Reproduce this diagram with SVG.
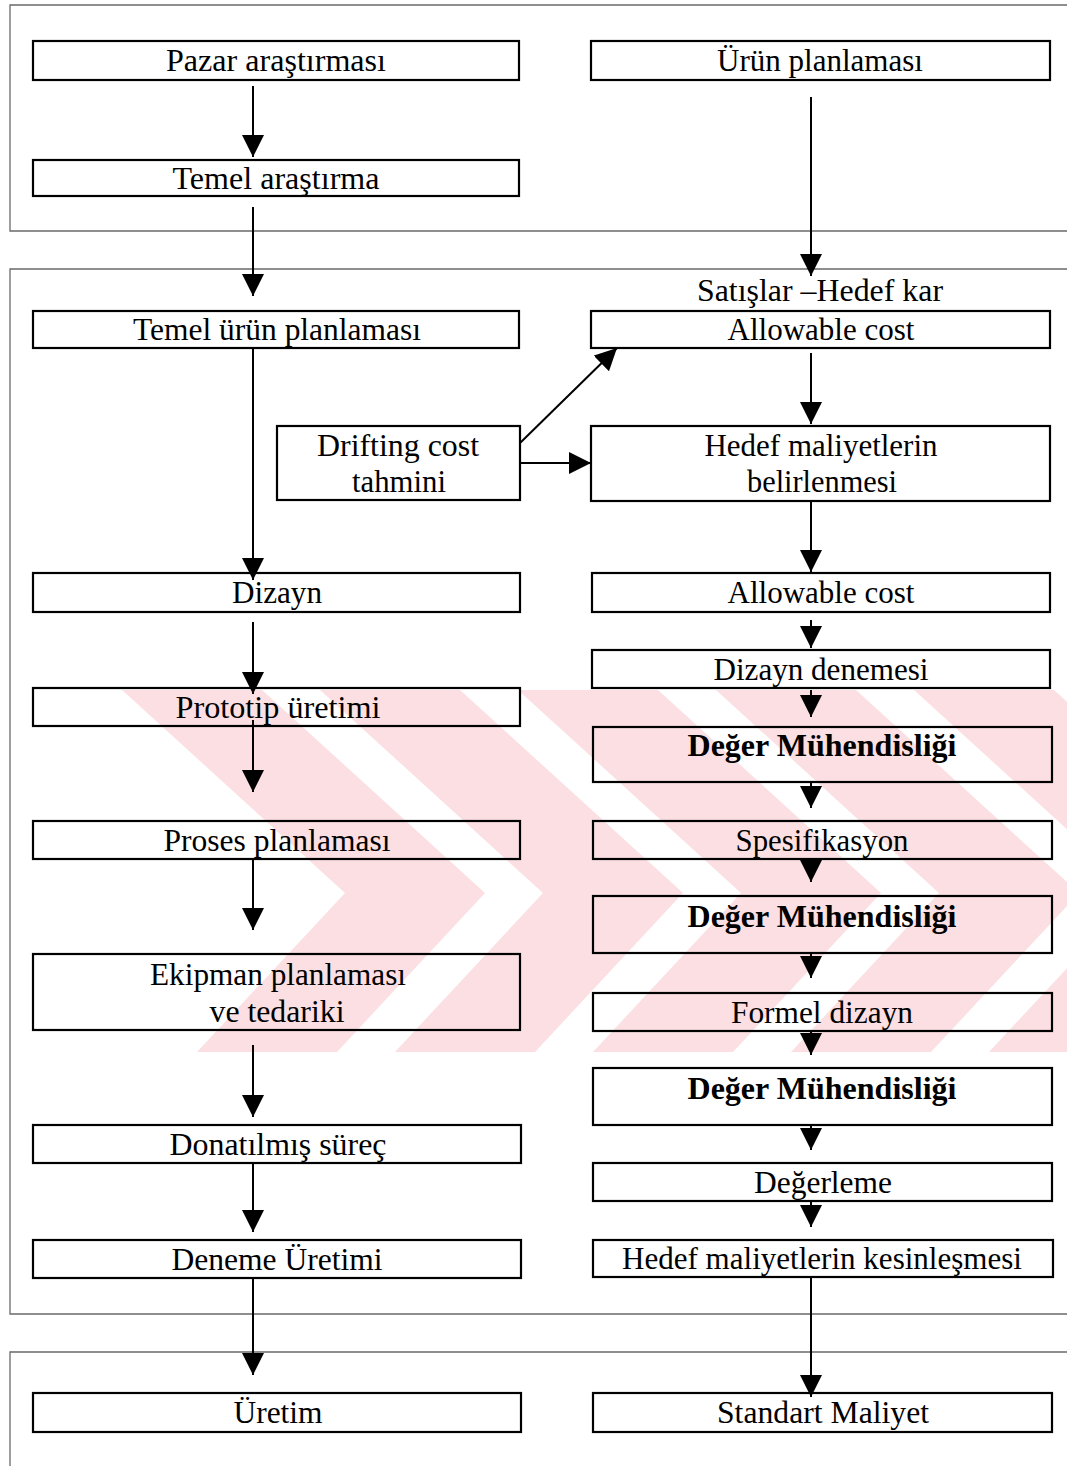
<svg xmlns="http://www.w3.org/2000/svg" width="1067" height="1466" viewBox="0 0 1067 1466">
  <defs>
    <marker id="arrow" markerUnits="userSpaceOnUse" markerWidth="24" markerHeight="22" refX="22" refY="11" orient="auto">
      <path d="M0,0 L22,11 L0,22 z" fill="#000"/>
    </marker>
    <!-- one band of the background emblem -->
    <polygon id="chevron" points="122,690 262,690 485,893 337,1052 197,1052 345,893"/>
    <style>
      .frame { fill: none; stroke: #6a6a6a; stroke-width: 1.3; }
      .box { fill: none; stroke: #000; stroke-width: 2.2; }
      .lbl { font-family: "Liberation Serif", "Times New Roman", serif; font-size: 31px; fill: #000; text-anchor: middle; }
      .bold { font-weight: bold; }
      .conn { stroke: #000; stroke-width: 2; fill: none; marker-end: url(#arrow); }
      .emblem { fill: #fbdfe2; }
    </style>
  </defs>

  <rect width="1067" height="1466" fill="#fff"/>

  <!-- pale background emblem -->
  <g id="emblem" class="emblem">
    <use href="#chevron"/>
    <use href="#chevron" x="198"/>
    <use href="#chevron" x="396"/>
    <use href="#chevron" x="594"/>
    <use href="#chevron" x="792"/>
  </g>

  <!-- phase frames -->
  <g id="frames">
    <path class="frame" d="M1067,5 H10 V231 H1067"/>
    <path class="frame" d="M1067,269 H10 V1314 H1067"/>
    <path class="frame" d="M1067,1352 H10 V1466"/>
  </g>

  <!-- left column -->
  <g id="pazar"><rect class="box" x="33" y="41" width="486" height="39"/><text class="lbl" x="276" y="71" textLength="220" lengthAdjust="spacingAndGlyphs">Pazar araştırması</text></g>
  <g id="temel-arastirma"><rect class="box" x="33" y="160" width="486" height="36"/><text class="lbl" x="276" y="189" textLength="207" lengthAdjust="spacingAndGlyphs">Temel araştırma</text></g>
  <g id="temel-urun"><rect class="box" x="33" y="311" width="486" height="37"/><text class="lbl" x="277" y="340" textLength="288" lengthAdjust="spacingAndGlyphs">Temel ürün planlaması</text></g>
  <g id="drifting"><rect class="box" x="277" y="426" width="243" height="74"/><text class="lbl" x="398" y="456" textLength="162" lengthAdjust="spacingAndGlyphs">Drifting cost</text><text class="lbl" x="399" y="492" textLength="94" lengthAdjust="spacingAndGlyphs">tahmini</text></g>
  <g id="dizayn"><rect class="box" x="33" y="573" width="487" height="39"/><text class="lbl" x="277" y="603" textLength="90" lengthAdjust="spacingAndGlyphs">Dizayn</text></g>
  <g id="prototip"><rect class="box" x="33" y="688" width="487" height="38"/><text class="lbl" x="278" y="718" textLength="205" lengthAdjust="spacingAndGlyphs">Prototip üretimi</text></g>
  <g id="proses"><rect class="box" x="33" y="821" width="487" height="38"/><text class="lbl" x="277" y="851" textLength="227" lengthAdjust="spacingAndGlyphs">Proses planlaması</text></g>
  <g id="ekipman"><rect class="box" x="33" y="954" width="487" height="76"/><text class="lbl" x="278" y="985" textLength="256" lengthAdjust="spacingAndGlyphs">Ekipman planlaması</text><text class="lbl" x="277" y="1022" textLength="135" lengthAdjust="spacingAndGlyphs">ve tedariki</text></g>
  <g id="donatilmis"><rect class="box" x="33" y="1125" width="488" height="38"/><text class="lbl" x="278" y="1155" textLength="217" lengthAdjust="spacingAndGlyphs">Donatılmış süreç</text></g>
  <g id="deneme"><rect class="box" x="33" y="1240" width="488" height="38"/><text class="lbl" x="277" y="1270" textLength="211" lengthAdjust="spacingAndGlyphs">Deneme Üretimi</text></g>
  <g id="uretim"><rect class="box" x="33" y="1393" width="488" height="39"/><text class="lbl" x="278" y="1423" textLength="89" lengthAdjust="spacingAndGlyphs">Üretim</text></g>

  <!-- right column -->
  <g id="urun-planlamasi"><rect class="box" x="591" y="41" width="459" height="39"/><text class="lbl" x="820" y="71" textLength="206" lengthAdjust="spacingAndGlyphs">Ürün planlaması</text></g>
  <g id="satislar"><text class="lbl" x="820" y="301" textLength="246" lengthAdjust="spacingAndGlyphs">Satışlar –Hedef kar</text></g>
  <g id="allowable-1"><rect class="box" x="591" y="311" width="459" height="37"/><text class="lbl" x="821" y="340" textLength="187" lengthAdjust="spacingAndGlyphs">Allowable cost</text></g>
  <g id="hedef-belirlenmesi"><rect class="box" x="591" y="426" width="459" height="75"/><text class="lbl" x="821" y="456" textLength="233" lengthAdjust="spacingAndGlyphs">Hedef maliyetlerin</text><text class="lbl" x="822" y="492" textLength="150" lengthAdjust="spacingAndGlyphs">belirlenmesi</text></g>
  <g id="allowable-2"><rect class="box" x="592" y="573" width="458" height="39"/><text class="lbl" x="821" y="603" textLength="187" lengthAdjust="spacingAndGlyphs">Allowable cost</text></g>
  <g id="dizayn-denemesi"><rect class="box" x="592" y="650" width="458" height="38"/><text class="lbl" x="821" y="680" textLength="215" lengthAdjust="spacingAndGlyphs">Dizayn denemesi</text></g>
  <g id="deger-1"><rect class="box" x="593" y="727" width="459" height="55"/><text class="lbl bold" x="822" y="756" textLength="269" lengthAdjust="spacingAndGlyphs">Değer Mühendisliği</text></g>
  <g id="spesifikasyon"><rect class="box" x="593" y="821" width="459" height="38"/><text class="lbl" x="822" y="851" textLength="173" lengthAdjust="spacingAndGlyphs">Spesifikasyon</text></g>
  <g id="deger-2"><rect class="box" x="593" y="896" width="459" height="57"/><text class="lbl bold" x="822" y="927" textLength="269" lengthAdjust="spacingAndGlyphs">Değer Mühendisliği</text></g>
  <g id="formel"><rect class="box" x="593" y="993" width="459" height="38"/><text class="lbl" x="822" y="1023" textLength="182" lengthAdjust="spacingAndGlyphs">Formel dizayn</text></g>
  <g id="deger-3"><rect class="box" x="593" y="1068" width="459" height="57"/><text class="lbl bold" x="822" y="1099" textLength="269" lengthAdjust="spacingAndGlyphs">Değer Mühendisliği</text></g>
  <g id="degerleme"><rect class="box" x="593" y="1163" width="459" height="38"/><text class="lbl" x="823" y="1193" textLength="138" lengthAdjust="spacingAndGlyphs">Değerleme</text></g>
  <g id="hedef-kesinlesmesi"><rect class="box" x="593" y="1240" width="460" height="37"/><text class="lbl" x="822" y="1269" textLength="400" lengthAdjust="spacingAndGlyphs">Hedef maliyetlerin kesinleşmesi</text></g>
  <g id="standart"><rect class="box" x="593" y="1393" width="459" height="39"/><text class="lbl" x="823" y="1423" textLength="212" lengthAdjust="spacingAndGlyphs">Standart Maliyet</text></g>

  <!-- connectors -->
  <g id="connectors">
    <line class="conn" x1="253" y1="86" x2="253" y2="157"/>
    <line class="conn" x1="253" y1="207" x2="253" y2="296"/>
    <line class="conn" x1="253" y1="348" x2="253" y2="580"/>
    <line class="conn" x1="253" y1="622" x2="253" y2="694"/>
    <line class="conn" x1="253" y1="720" x2="253" y2="792"/>
    <line class="conn" x1="253" y1="859" x2="253" y2="930"/>
    <line class="conn" x1="253" y1="1045" x2="253" y2="1117"/>
    <line class="conn" x1="253" y1="1163" x2="253" y2="1232"/>
    <line class="conn" x1="253" y1="1278" x2="253" y2="1375"/>

    <line class="conn" x1="811" y1="97" x2="811" y2="276"/>
    <line class="conn" x1="811" y1="353" x2="811" y2="424"/>
    <line class="conn" x1="811" y1="501" x2="811" y2="572"/>
    <line class="conn" x1="811" y1="620" x2="811" y2="648"/>
    <line class="conn" x1="811" y1="690" x2="811" y2="717"/>
    <line class="conn" x1="811" y1="782" x2="811" y2="808"/>
    <line class="conn" x1="811" y1="859" x2="811" y2="882"/>
    <line class="conn" x1="811" y1="953" x2="811" y2="978"/>
    <line class="conn" x1="811" y1="1031" x2="811" y2="1055"/>
    <line class="conn" x1="811" y1="1125" x2="811" y2="1150"/>
    <line class="conn" x1="811" y1="1201" x2="811" y2="1227"/>
    <line class="conn" x1="811" y1="1277" x2="811" y2="1397"/>

    <line class="conn" x1="520" y1="443" x2="617" y2="348"/>
    <line class="conn" x1="520" y1="463" x2="591" y2="463"/>
  </g>
</svg>
